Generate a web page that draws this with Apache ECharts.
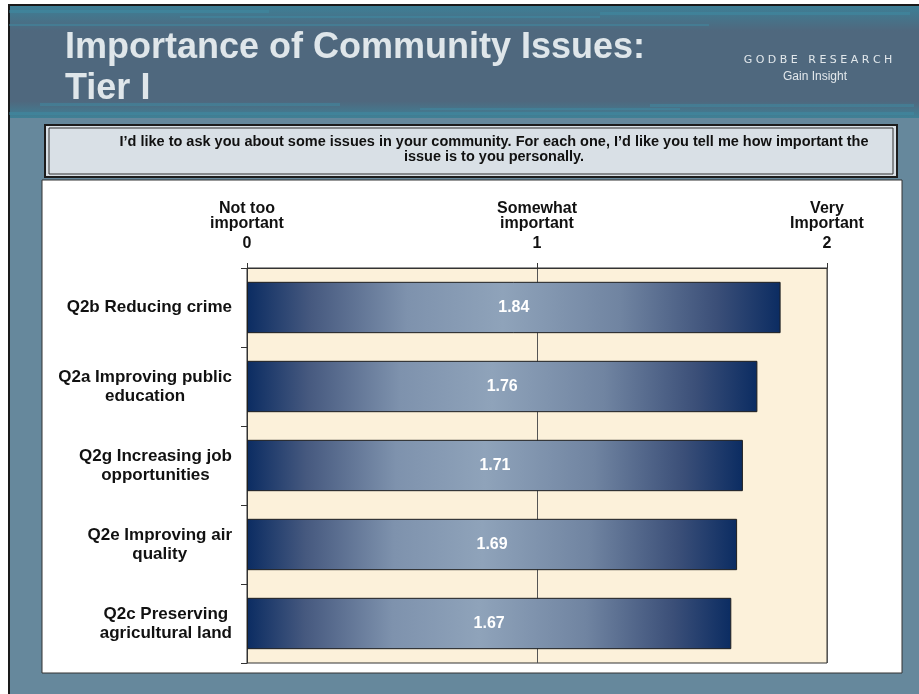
<!DOCTYPE html>
<html>
<head>
<meta charset="utf-8">
<script src="https://cdn.jsdelivr.net/npm/echarts@6/dist/echarts.min.js"></script>
<style>
  html, body { margin: 0; padding: 0; background: #fff; }
  #chart { width: 919px; height: 694px; }
</style>
</head>
<body>
<div id="chart"></div>
<script>
// data
const categories = [
    'Q2b Reducing crime',
    'Q2a Improving public\neducation',
    'Q2g Increasing job\nopportunities',
    'Q2e Improving air\nquality',
    'Q2c Preserving\nagricultural land'
];
const scores = [1.84, 1.76, 1.71, 1.69, 1.67];
const tickValues = [0, 1, 2];
const tickNames = ['Not too\nimportant', 'Somewhat\nimportant', 'Very\nImportant'];

const chart = echarts.init(document.getElementById('chart'));

// header streaks (decoration only)
const streaks = [
    [9, 10, 260, 3], [180, 16, 420, 2], [600, 12, 310, 3], [9, 24, 700, 2],
    [40, 103, 300, 3], [420, 108, 260, 2], [650, 104, 264, 3], [9, 112, 905, 3]
].map(s => ({
    type: 'rect', z: -9,
    shape: { x: s[0], y: s[1], width: s[2], height: s[3] },
    style: { fill: '#3f8fa6', opacity: 0.45 }
}));

chart.setOption({
    backgroundColor: '#ffffff',
    textStyle: { fontFamily: 'Liberation Sans, Arial, sans-serif' },
    graphic: [
        // slide background + border
        { type: 'rect', z: -10, shape: { x: 9, y: 5, width: 920, height: 700 },
          style: { fill: '#66889c', stroke: '#1a1a1a', lineWidth: 2 } },
        // header band
        { type: 'rect', z: -10, shape: { x: 10, y: 6, width: 910, height: 112 },
          style: { fill: new echarts.graphic.LinearGradient(0, 0, 0, 1, [
              { offset: 0, color: '#3d7f96' },
              { offset: 0.22, color: '#4f687e' },
              { offset: 0.85, color: '#4f687e' },
              { offset: 1, color: '#3f8196' }
          ]) } },
        ...streaks,
        { type: 'text', z: 10, x: 65, y: 28,
          style: { text: 'Importance of Community Issues:\nTier I', fill: '#dfe6ea',
                   font: 'bold 36px Liberation Sans, Arial, sans-serif', lineHeight: 41 } },
        { type: 'text', z: 10, x: 818, y: 55,
          style: { text: 'G O D B E   R E S E A R C H', fill: '#e2e8ec', align: 'center',
                   font: '11px DejaVu Sans, sans-serif' } },
        { type: 'text', z: 10, x: 815, y: 71,
          style: { text: 'Gain Insight', fill: '#e2e8ec', align: 'center',
                   font: '12px Liberation Sans Narrow, Liberation Sans, sans-serif' } },
        // question box
        { type: 'rect', z: -8, shape: { x: 45, y: 125, width: 852, height: 52 },
          style: { fill: '#d9e0e6', stroke: '#1c1c1c', lineWidth: 2 } },
        { type: 'rect', z: -7, shape: { x: 49, y: 128, width: 844, height: 46 },
          style: { fill: 'none', stroke: '#333', lineWidth: 1 } },
        { type: 'text', z: 10, x: 494, y: 134,
          style: { text: 'I\u2019d like to ask you about some issues in your community. For each one, I\u2019d like you tell me how important the\nissue is to you personally.',
                   fill: '#111', align: 'center', lineHeight: 15,
                   font: 'bold 14.5px Liberation Sans, Arial, sans-serif' } },
        // white chart panel
        { type: 'rect', z: -8, shape: { x: 42, y: 180, width: 860, height: 493 },
          style: { fill: '#ffffff', stroke: '#333', lineWidth: 1 } }
    ],
    grid: {
        left: 247, right: 92, top: 268, bottom: 31,
        show: true, backgroundColor: '#fcf1da', borderColor: '#333', borderWidth: 1
    },
    xAxis: {
        type: 'value', position: 'top', min: 0, max: 2, interval: 1,
        axisLine: { show: true, lineStyle: { color: '#333' } },
        axisTick: { show: true, length: 5, inside: false, lineStyle: { color: '#333' } },
        splitLine: { show: true, lineStyle: { color: '#555', width: 1 } },
        axisLabel: {
            margin: 11,
            formatter: v => '{n|' + tickNames[tickValues.indexOf(v)].split('\n').join('}\n{n|') + '}\n{v|' + v + '}',
            rich: {
                n: { fontSize: 16, fontWeight: 'bold', color: '#111', lineHeight: 15, align: 'center' },
                v: { fontSize: 16, fontWeight: 'bold', color: '#111', lineHeight: 26, align: 'center' }
            }
        }
    },
    yAxis: {
        type: 'category', data: categories, inverse: true,
        axisLine: { show: true, lineStyle: { color: '#333' } },
        axisTick: { show: true, length: 6, lineStyle: { color: '#333' } },
        axisLabel: {
            margin: 15, align: 'right',
            formatter: v => v.split('\n').map(l => '{c|' + l + '}').join('\n'),
            rich: {
                c: { fontSize: 17, fontWeight: 'bold', color: '#111', lineHeight: 19, align: 'center' }
            }
        }
    },
    series: [{
        type: 'bar', data: scores, barCategoryGap: '35%',
        itemStyle: {
            borderColor: '#1e1e1e', borderWidth: 1,
            color: new echarts.graphic.LinearGradient(0, 0, 1, 0, [
                { offset: 0, color: '#0b2c62' },
                { offset: 0.12, color: '#46597f' },
                { offset: 0.3, color: '#7e92ad' },
                { offset: 0.48, color: '#8fa3ba' },
                { offset: 0.7, color: '#7084a1' },
                { offset: 0.88, color: '#3b4f78' },
                { offset: 1, color: '#0b2c62' }
            ])
        },
        label: {
            show: true, position: 'inside', color: '#fff',
            fontSize: 16, fontWeight: 'bold', formatter: p => p.value.toFixed(2)
        },
        emphasis: { disabled: true }
    }]
});
</script>
</body>
</html>
